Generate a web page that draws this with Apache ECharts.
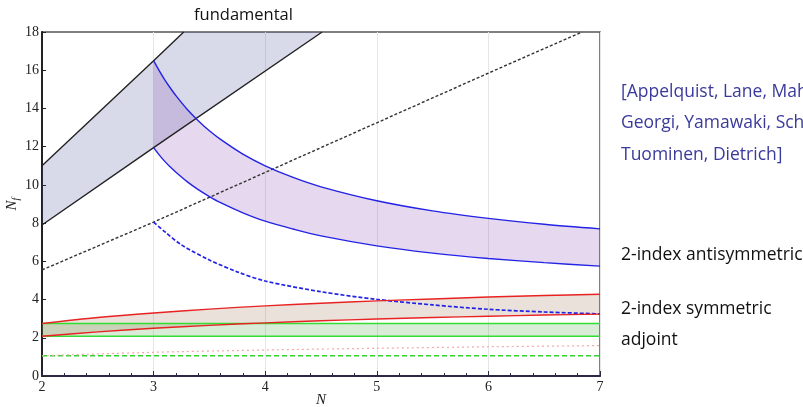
<!DOCTYPE html>
<html>
<head>
<meta charset="utf-8">
<script src="https://cdn.jsdelivr.net/npm/echarts@6/dist/echarts.min.js"></script>
<style>
  html, body { margin: 0; padding: 0; background: #fff; }
  #chart { width: 803px; height: 407px; }
</style>
</head>
<body>
<div id="chart"></div>
<script>
// x ticks (N) and y ticks (Nf)
const xTicks = [2, 3, 4, 5, 6, 7];
const yTicks = [0, 2, 4, 6, 8, 10, 12, 14, 16, 18];

// fundamental band, [N, Nf]
const fundUpper = [[2, 11], [3, 16.5], [3.27, 18]];
const fundLower = [[2, 7.9], [3, 11.95], [4.51, 18]];
const fundDashed = [[2, 5.55], [3, 8.05], [4, 10.65], [5, 13.25], [6, 15.85], [6.84, 18]];

// 2-index antisymmetric band
const antiUpper = [[3, 16.5], [3.05, 15.98], [3.1, 15.5], [3.15, 15.07], [3.2, 14.67], [3.3, 13.96],
  [3.4, 13.36], [3.5, 12.83], [3.6, 12.38], [3.8, 11.61], [4, 11], [4.25, 10.39], [4.5, 9.9],
  [5, 9.17], [5.5, 8.64], [6, 8.25], [6.5, 7.94], [7, 7.7]];
const antiLower = [[3, 11.95], [3.05, 11.57], [3.1, 11.23], [3.15, 10.93], [3.2, 10.66], [3.3, 10.17],
  [3.4, 9.75], [3.5, 9.39], [3.6, 9.07], [3.8, 8.54], [4, 8.1], [4.25, 7.69], [4.5, 7.33],
  [5, 6.81], [5.5, 6.43], [6, 6.15], [6.5, 5.93], [7, 5.75]];
const antiDashed = [[3, 8.05], [3.1, 7.55], [3.25, 6.86], [3.5, 6.07], [3.75, 5.45], [4, 4.97],
  [4.5, 4.41], [5, 4.01], [5.5, 3.72], [6, 3.49], [6.5, 3.35], [7, 3.25]];

// 2-index symmetric band
const symUpper = [[2, 2.75], [2.5, 3.06], [3, 3.3], [3.5, 3.5], [4, 3.67], [4.5, 3.81], [5, 3.93],
  [5.5, 4.03], [6, 4.13], [6.5, 4.21], [7, 4.28]];
const symLower = [[2, 2.08], [2.5, 2.31], [3, 2.5], [3.5, 2.65], [4, 2.78], [4.5, 2.89], [5, 2.98],
  [5.5, 3.06], [6, 3.13], [6.5, 3.19], [7, 3.24]];
const symDotted = [[2, 1.06], [3, 1.24], [4, 1.36], [5, 1.45], [6, 1.53], [7, 1.59]];

// adjoint band
const adjUpper = [[2, 2.75], [7, 2.75]];
const adjLower = [[2, 2.08], [7, 2.08]];
const adjDashed = [[2, 1.06], [7, 1.06]];

const citeLines = ['[Appelquist, Lane, Mahanta,', 'Georgi, Yamawaki, Schrock,', 'Tuominen, Dietrich]'];

function band(upper, lower, fill) {
  const poly = upper.concat(lower.slice().reverse());
  return {
    type: 'custom',
    silent: true,
    z: 1,
    data: [poly[0]],
    renderItem: function(params, api) {
      return {
        type: 'polygon',
        shape: { points: poly.map(p => api.coord(p)) },
        style: { fill: fill }
      };
    }
  };
}

function curve(data, color, type, width, smooth) {
  return {
    type: 'line',
    data: data,
    showSymbol: false,
    silent: true,
    smooth: smooth ? 0.3 : false,
    z: 3,
    lineStyle: { color: color, width: width || 1.4, type: type || 'solid' }
  };
}

const chart = echarts.init(document.getElementById('chart'));
const serif = 'Liberation Serif';
const sans = 'Open Sans';
const textFont = '17.5px "' + sans + '"';

chart.setOption({
  animation: false,
  backgroundColor: '#fff',
  grid: {
    left: 42, right: 203, top: 32, bottom: 31,
    outerBoundsMode: 'none', containLabel: false,
    show: true, borderColor: '#555', borderWidth: 1.5, backgroundColor: '#fff'
  },
  xAxis: {
    type: 'value',
    min: xTicks[0], max: xTicks[xTicks.length - 1], interval: 1,
    name: 'N', nameLocation: 'middle', nameGap: 17, nameMoveOverlap: false,
    nameTextStyle: { fontFamily: serif, fontStyle: 'italic', fontSize: 15, color: '#222' },
    axisLine: { lineStyle: { color: '#2a2a44', width: 2 } },
    axisTick: { inside: true, length: 5, lineStyle: { color: '#2a2a44' } },
    minorTick: { show: true, splitNumber: 5, length: 3, lineStyle: { color: '#2a2a44' } },
    axisLabel: { fontFamily: serif, fontSize: 14, color: '#222', margin: 4 },
    splitLine: { show: true, lineStyle: { color: '#e6e6e6', width: 1 } }
  },
  yAxis: {
    type: 'value',
    min: yTicks[0], max: yTicks[yTicks.length - 1], interval: 2,
    name: '{n|N}{s|f}', nameLocation: 'middle', nameGap: 21, nameMoveOverlap: false,
    nameTextStyle: {
      rich: {
        n: { fontFamily: serif, fontStyle: 'italic', fontSize: 15, color: '#222' },
        s: { fontFamily: serif, fontStyle: 'italic', fontSize: 10, color: '#222', padding: [7, 0, 0, 0] }
      }
    },
    axisLine: { lineStyle: { color: '#222', width: 2 } },
    axisTick: { inside: true, length: 4, lineStyle: { color: '#222' } },
    axisLabel: { fontFamily: serif, fontSize: 14, color: '#222', margin: 3 },
    splitLine: { show: false }
  },
  graphic: [
    { type: 'text', x: 194, y: 15, style: { text: 'fundamental', font: '16.5px "' + sans + '"', fill: '#111', verticalAlign: 'middle' } },
    { type: 'text', x: 621, y: 92, style: { text: citeLines[0], font: textFont, fill: '#3a3a9c', verticalAlign: 'middle' } },
    { type: 'text', x: 621, y: 123, style: { text: citeLines[1], font: textFont, fill: '#3a3a9c', verticalAlign: 'middle' } },
    { type: 'text', x: 621, y: 155, style: { text: citeLines[2], font: textFont, fill: '#3a3a9c', verticalAlign: 'middle' } },
    { type: 'text', x: 621, y: 255, style: { text: '2-index antisymmetric', font: textFont, fill: '#111', verticalAlign: 'middle' } },
    { type: 'text', x: 621, y: 309, style: { text: '2-index symmetric', font: textFont, fill: '#111', verticalAlign: 'middle' } },
    { type: 'text', x: 621, y: 340, style: { text: 'adjoint', font: textFont, fill: '#111', verticalAlign: 'middle' } }
  ],
  series: [
    band(fundUpper, fundLower, 'rgba(60,70,150,0.2)'),
    band(antiUpper, antiLower, 'rgba(130,60,170,0.2)'),
    band(adjUpper, adjLower, 'rgba(60,160,60,0.2)'),
    band(symUpper, symLower, 'rgba(150,110,70,0.2)'),
    curve(fundUpper, '#222'),
    curve(fundLower, '#222'),
    curve(fundDashed, '#333', [3, 2]),
    curve(antiUpper, '#2323e6', 'solid', 1.4, true),
    curve(antiLower, '#2323e6', 'solid', 1.4, true),
    curve(antiDashed, '#2323e6', [4, 2], 1.7, true),
    curve(adjUpper, '#33dd33'),
    curve(adjLower, '#33dd33'),
    curve(adjDashed, '#2fd42f', [5, 3], 1.6),
    curve(symUpper, '#e82222', 'solid', 1.4, true),
    curve(symLower, '#e82222', 'solid', 1.4, true),
    curve(symDotted, '#f4a8a8', [2, 3], 1.2, true)
  ]
});
</script>
</body>
</html>
